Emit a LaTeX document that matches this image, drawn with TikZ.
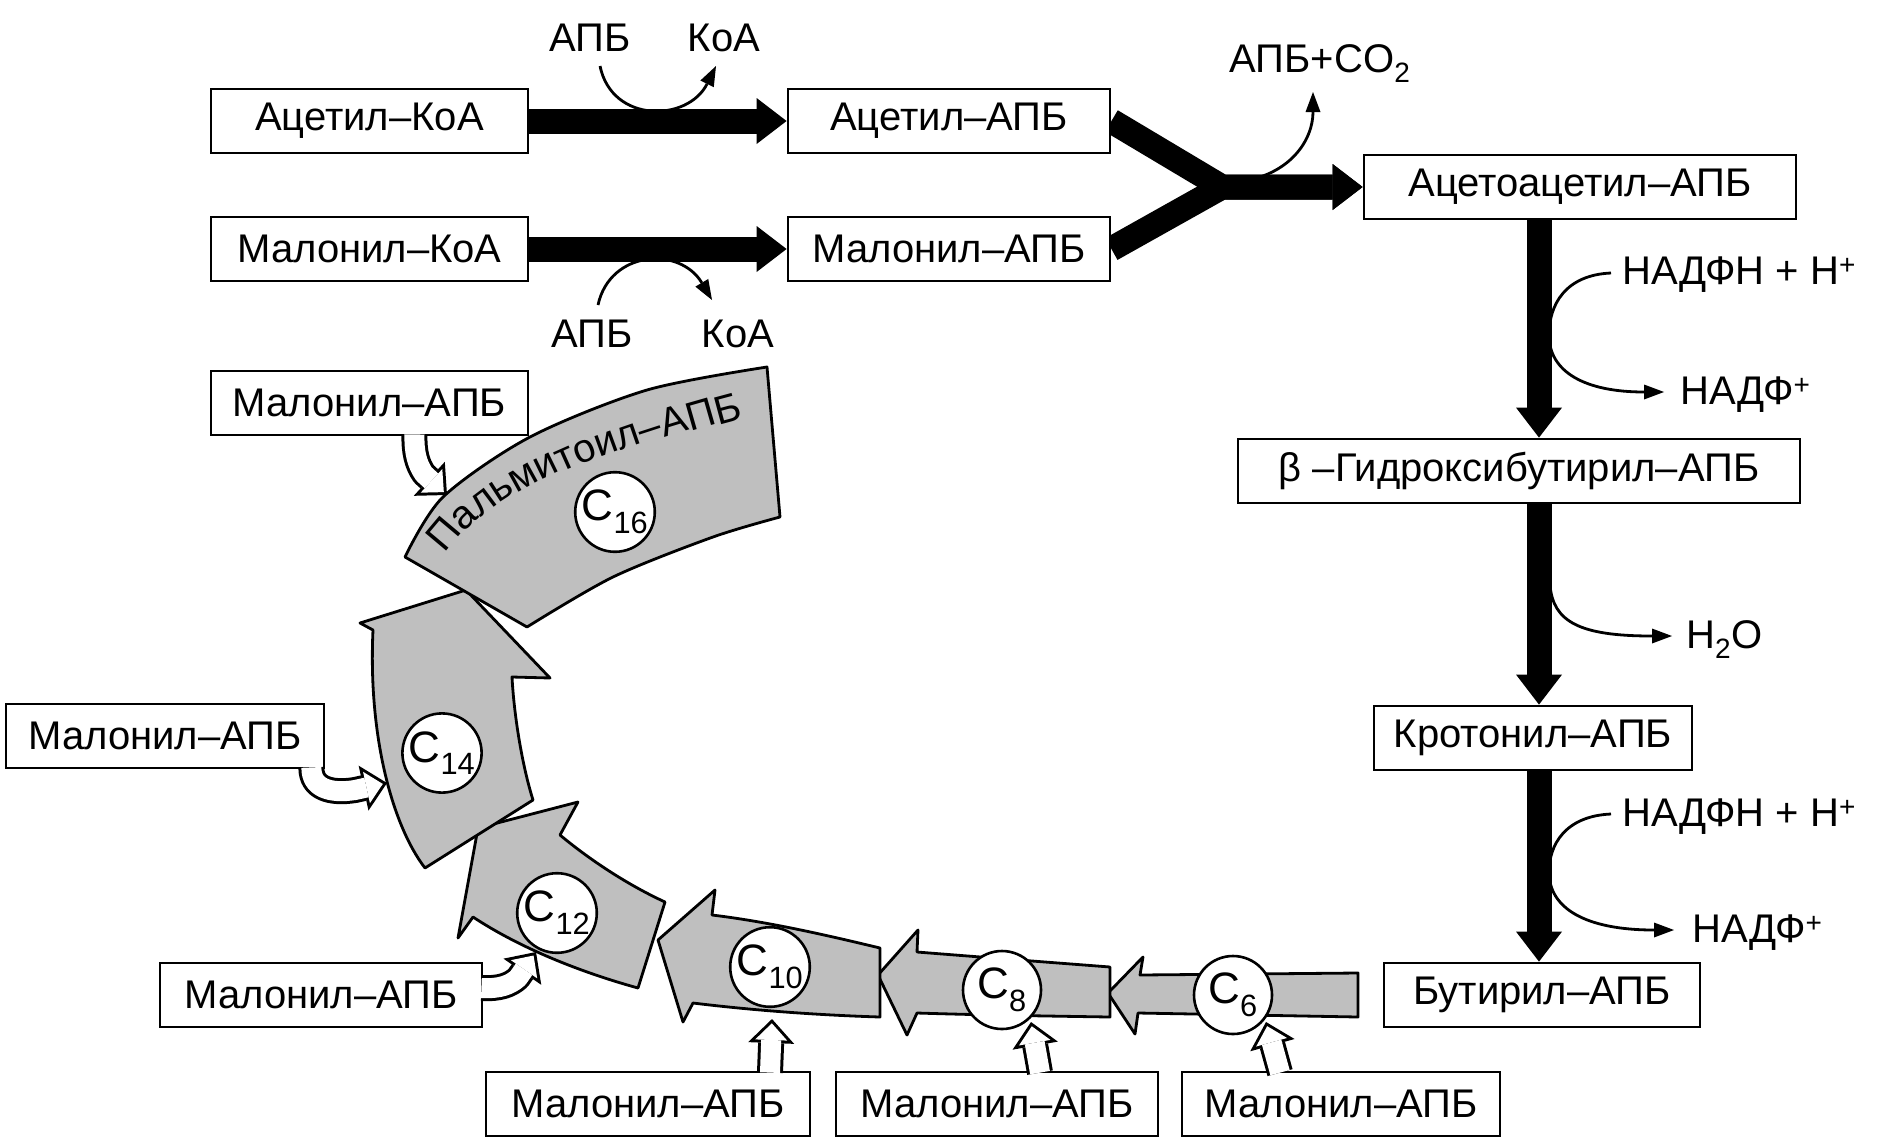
\documentclass[tikz,border=0pt]{standalone}
\usepackage{fontspec}
\setmainfont{Liberation Sans}
\usetikzlibrary{arrows.meta,calc}
\pgfdeclarelayer{bg}
\pgfsetlayers{bg,main}
\begin{document}
\begin{tikzpicture}[x=1pt,y=-1pt,
  txt/.style={font=\fontsize{40}{42}\selectfont},
  lbl/.style={txt, inner sep=0pt},
  box/.style={txt, draw, line width=2.8pt, fill=white, minimum height=64pt, inner sep=0pt},
  fat/.style={line width=25pt, -{Triangle[length=30pt,width=46pt,line width=0pt]}},
  thinarr/.style={line width=2.8pt, -{Triangle[length=20pt,width=15pt,line width=0pt]}},
  seg/.style={draw, line width=2.8pt, fill=black!25, line join=round},
  cnum/.style={circle, draw, line width=2.6pt, fill=white, minimum size=78pt, inner sep=0pt, font=\fontsize{44}{44}\selectfont},
  holo/.style={line width=26pt, line join=round, -{Triangle[length=24pt,width=46pt,line width=0pt]}},
  holi/.style={line width=20pt, line join=round, white, shorten >=4.3pt, -{Triangle[length=16.7pt,width=32pt,line width=0pt]}}
]
\useasboundingbox (0,0) rectangle (1881,1138);

% boxes
\node[box, minimum width=317pt] (ackoa) at (369.5,121) {Ацетил–КоА};
\node[box, minimum width=317pt] (malkoa) at (369.5,249) {Малонил–КоА};
\node[box, minimum width=322pt] (acapb) at (949,121) {Ацетил–АПБ};
\node[box, minimum width=322pt] (malapb) at (949,249) {Малонил–АПБ};
\node[box, minimum width=432pt] (acac) at (1580,187) {Ацетоацетил–АПБ};
\node[box, minimum width=562pt] (bhb) at (1519,471) {β –Гидроксибутирил–АПБ};
\node[box, minimum width=318pt] (kro) at (1533,738) {Кротонил–АПБ};
\node[box, minimum width=316pt] (but) at (1542,995) {Бутирил–АПБ};
\node[box, minimum width=324pt] (m1) at (648,1104) {Малонил–АПБ};
\node[box, minimum width=322pt] (m2) at (997,1104) {Малонил–АПБ};
\node[box, minimum width=318pt] (m3) at (1341,1104) {Малонил–АПБ};
\node[box, minimum width=322pt] (m12) at (321,995) {Малонил–АПБ};
\node[box, minimum width=318pt] (m14) at (165,736) {Малонил–АПБ};
\node[box, minimum width=317pt] (m16) at (369.5,403) {Малонил–АПБ};

% thick arrows
\coordinate (jn) at (1222,187);
\coordinate (vx) at (1539,0);
\begin{pgfonlayer}{bg}
\draw[fat] (ackoa.east) -- (acapb.west);
\draw[fat] (malkoa.east) -- (malapb.west);
\draw[fat, line join=round] (acapb.east) -- (jn) -- (acac.west);
\draw[fat, line join=round] (malapb.east) -- (jn) -- (acac.west);
\draw[fat] (acac.south -| vx) -- (bhb.north -| vx);
\draw[fat] (bhb.south -| vx) -- (kro.north -| vx);
\draw[fat] (kro.south -| vx) -- (but.north -| vx);
\end{pgfonlayer}

% labels
\node[lbl, anchor=base] (apb1) at (590,51) {АПБ};
\node[lbl, anchor=base] (koa1) at (724,51) {КоА};
\node[lbl, anchor=base] (apb2) at (592,347) {АПБ};
\node[lbl, anchor=base] (koa2) at (738,347) {КоА};
\node[lbl, anchor=base] (co2) at (1320,72) {АПБ+CO\textsubscript{2}};
\node[lbl, anchor=base west] (n1) at (1622,284) {НАДФН + H\textsuperscript{+}};
\node[lbl, anchor=base west] (np1) at (1680,404) {НАДФ\textsuperscript{+}};
\node[lbl, anchor=base west] (h2o) at (1686,648) {H\textsubscript{2}O};
\node[lbl, anchor=base west] (n2) at (1622,826) {НАДФН + H\textsuperscript{+}};
\node[lbl, anchor=base west] (np2) at (1692,942) {НАДФ\textsuperscript{+}};

% thin curved arrows
\coordinate (a1) at (600,66); \coordinate (a2) at (716,66);
\draw[thinarr] (a1) .. controls (612,124) and (688,122) .. (a2);
\coordinate (b1) at (598,305); \coordinate (b2) at (712,300);
\draw[thinarr] (b1) .. controls (610,250) and (680,246) .. (b2);
\coordinate (cs) at (1237,182); \coordinate (ce) at (1313,92);
\draw[thinarr] (cs) .. controls (1290,176) and (1313,140) .. (ce);
\coordinate (r1a) at (1611,273); \coordinate (r1b) at (1664,392);
\draw[thinarr] (r1a) .. controls (1565,275) and (1549,305) .. (1549,335) .. controls (1549,372) and (1585,392) .. (r1b);
\coordinate (wa) at (1550,585); \coordinate (wb) at (1672,636);
\draw[thinarr] (wa) .. controls (1553,622) and (1580,636) .. (wb);
\coordinate (r2a) at (1611,814); \coordinate (r2b) at (1674,930);
\draw[thinarr] (r2a) .. controls (1565,816) and (1549,845) .. (1549,872) .. controls (1549,908) and (1585,930) .. (r2b);

% shaded chain
\path[seg] (1108,993) -- (1143,957) -- (1140,975) -- (1358,973) -- (1358,1017) -- (1138,1013) -- (1135,1034) -- cycle;
\path[seg] (878,975) -- (918,930) -- (917,952) .. controls (980,957) and (1045,962) .. (1110,967) -- (1110,1017) .. controls (1045,1016) and (980,1015) .. (917,1013) -- (907,1035) -- cycle;
\path[seg] (658,940) -- (715,890) -- (712,915) .. controls (770,922) and (830,936) .. (880,948) -- (880,1017) .. controls (815,1015) and (750,1010) .. (693,1003) -- (683,1022) -- cycle;
\path[seg] (478,828) -- (578,802) -- (560,835) .. controls (590,860) and (628,885) .. (665,902) -- (638,988) .. controls (580,972) and (520,948) .. (473,917) -- (458,938) -- cycle;
\path[seg] (466,590) -- (550,678) -- (512,677) .. controls (514,715) and (522,765) .. (533,800) -- (425,868) .. controls (392,825) and (368,735) .. (373,630) -- (360,623) -- cycle;
\path[seg] (527,627) -- (405,557) -- plot[smooth] coordinates {(405,557) (443,497) (530,437) (647,390) (767,367)} -- (780,517) -- plot[smooth] coordinates {(780,517) (713,537) (613,577) (527,627)} -- cycle;
\foreach \ch/\x/\y/\a [count=\i] in {П/453.8/542.9/50, а/471.5/524.7/43, л/489.4/510.8/37, ь/507.3/498.2/33, м/528.6/487.2/29, и/550.6/475.7/26, т/569.8/468.3/24, о/588.8/461.1/22, и/609.9/453.2/20, л/631.9/446.6/19, –/653.5/440.5/18, А/677.1/433.8/17, П/704.1/427.6/16, Б/731/421.6/15}
  \node[inner sep=0pt, anchor=base, rotate=\a, font=\fontsize{40}{40}\selectfont] (pl\i) at (\x,\y) {\ch};

% circles
\node[cnum] (c6) at (1233,995) {C\textsubscript{6}};
\node[cnum] (c8) at (1002,990) {C\textsubscript{8}};
\node[cnum] (c10) at (770,967) {C\textsubscript{10}};
\node[cnum] (c12) at (557,913) {C\textsubscript{12}};
\node[cnum] (c14) at (442,753) {C\textsubscript{14}};
\node[cnum] (c16) at (615,512) {C\textsubscript{16}};

% hollow connectors
\coordinate (t6) at (1266,1022);
\coordinate (t8) at (1031,1022);
\coordinate (t10) at (772,1019);
\coordinate (t12) at (536,952);
\coordinate (t14) at (387,783);
\coordinate (t16) at (447,495);
\draw[holo] ([xshift=-61pt,yshift=-2pt]m3.north) -- (t6);
\draw[holi] ([xshift=-61pt,yshift=-2pt]m3.north) -- (t6);
\draw[holo] ([xshift=43pt,yshift=-2pt]m2.north) -- (t8);
\draw[holi] ([xshift=43pt,yshift=-2pt]m2.north) -- (t8);
\draw[holo] ([xshift=122pt,yshift=-2pt]m1.north) -- (t10);
\draw[holi] ([xshift=122pt,yshift=-2pt]m1.north) -- (t10);
\draw[holo] ([xshift=-2pt,yshift=7pt]m12.east) .. controls (500,989) and (510,985) .. (518,978) -- (t12);
\draw[holi] ([xshift=-2pt,yshift=7pt]m12.east) .. controls (500,989) and (510,985) .. (518,978) -- (t12);
\draw[holo] ([xshift=-14pt,yshift=2pt]m14.south east) .. controls (311,788) and (330,794) .. (355,790) -- (t14);
\draw[holi] ([xshift=-14pt,yshift=2pt]m14.south east) .. controls (311,788) and (330,794) .. (355,790) -- (t14);
\draw[holo] ([xshift=45pt,yshift=2pt]m16.south) .. controls (414,452) and (417,464) .. (424,474) -- (t16);
\draw[holi] ([xshift=45pt,yshift=2pt]m16.south) .. controls (414,452) and (417,464) .. (424,474) -- (t16);
\end{tikzpicture}
\end{document}
